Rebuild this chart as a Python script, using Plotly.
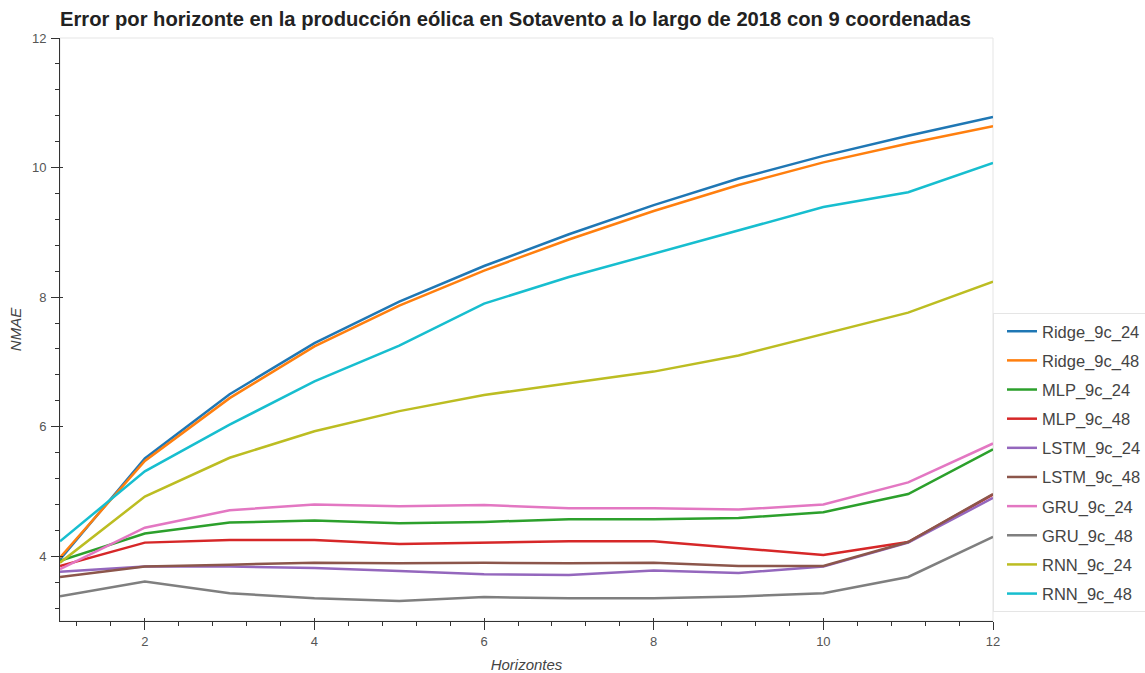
import plotly.graph_objects as go

# Forecast horizons (steps ahead)
horizontes = [1, 2, 3, 4, 5, 6, 7, 8, 9, 10, 11, 12]

# NMAE per model and horizon
ridge_9c_24 = [3.95, 5.51, 6.50, 7.29, 7.93, 8.48, 8.97, 9.42, 9.83, 10.18, 10.49, 10.78]
ridge_9c_48 = [3.98, 5.47, 6.44, 7.24, 7.87, 8.41, 8.89, 9.33, 9.73, 10.08, 10.37, 10.64]
mlp_9c_24 = [3.93, 4.35, 4.52, 4.55, 4.51, 4.53, 4.57, 4.57, 4.59, 4.68, 4.96, 5.65]
mlp_9c_48 = [3.85, 4.21, 4.25, 4.25, 4.19, 4.21, 4.23, 4.23, 4.12, 4.02, 4.22, 4.95]
lstm_9c_24 = [3.76, 3.84, 3.84, 3.82, 3.77, 3.72, 3.71, 3.78, 3.74, 3.84, 4.21, 4.90]
lstm_9c_48 = [3.68, 3.84, 3.87, 3.90, 3.89, 3.90, 3.89, 3.90, 3.85, 3.85, 4.22, 4.96]
gru_9c_24 = [3.80, 4.44, 4.71, 4.80, 4.77, 4.79, 4.74, 4.74, 4.72, 4.80, 5.14, 5.74]
gru_9c_48 = [3.38, 3.61, 3.43, 3.35, 3.31, 3.37, 3.35, 3.35, 3.38, 3.43, 3.68, 4.30]
rnn_9c_24 = [3.90, 4.92, 5.52, 5.93, 6.24, 6.49, 6.67, 6.85, 7.10, 7.43, 7.76, 8.24]
rnn_9c_48 = [4.23, 5.31, 6.03, 6.70, 7.25, 7.90, 8.31, 8.67, 9.04, 9.39, 9.62, 10.07]

series_names = ["Ridge_9c_24", "Ridge_9c_48", "MLP_9c_24", "MLP_9c_48", "LSTM_9c_24",
                "LSTM_9c_48", "GRU_9c_24", "GRU_9c_48", "RNN_9c_24", "RNN_9c_48"]
series_values = [ridge_9c_24, ridge_9c_48, mlp_9c_24, mlp_9c_48, lstm_9c_24,
                 lstm_9c_48, gru_9c_24, gru_9c_48, rnn_9c_24, rnn_9c_48]
palette = ["#1f77b4", "#ff7f0e", "#2ca02c", "#d62728", "#9467bd",
           "#8c564b", "#e377c2", "#7f7f7f", "#bcbd22", "#17becf"]

FONT = "Liberation Sans, Arial, Helvetica, sans-serif"
AXIS_COLOR = "#333333"

fig = go.Figure()
for i, (name, vals, color) in enumerate(zip(series_names, series_values, palette)):
    fig.add_trace(go.Scatter(
        x=horizontes, y=vals, name=name, mode="lines",
        line=dict(color=color, width=2.5),
        legendgroup=f"g{i}",
    ))

# Invisible helper trace on overlaid axes draws the short inner part of the major ticks
fig.add_trace(go.Scatter(x=[None], y=[None], xaxis="x2", yaxis="y2",
                         showlegend=False, hoverinfo="skip"))

axis_common = dict(
    showgrid=False, zeroline=False,
    showline=True, linecolor=AXIS_COLOR, linewidth=1,
    ticks="outside", ticklen=8, tickcolor=AXIS_COLOR, tickwidth=1,
    tickfont=dict(family=FONT, size=13, color="#555555"),
    minor=dict(dtick=0.4, ticks="outside", ticklen=4, tickcolor=AXIS_COLOR, tickwidth=1),
)
inner_common = dict(
    showgrid=False, zeroline=False, showline=False, showticklabels=False,
    ticks="inside", ticklen=3, tickcolor=AXIS_COLOR, tickwidth=1,
    tick0=0, dtick=2,
)

PLOT_TOP, PLOT_BOTTOM = 38, 621
LEGEND_TOP = 313

fig.update_layout(
    width=1145, height=673,
    margin=dict(l=60, r=152, t=PLOT_TOP, b=673 - PLOT_BOTTOM, autoexpand=False),
    paper_bgcolor="white", plot_bgcolor="white",
    font=dict(family=FONT, color="#444444"),
    title=dict(
        text="<b>Error por horizonte en la producción eólica en Sotavento a lo largo de 2018 con 9 coordenadas</b>",
        font=dict(family=FONT, size=20.2, color="#222222"),
        xref="container", yref="container",
        x=60 / 1145, xanchor="left",
        y=1 - 19 / 673, yanchor="middle",
    ),
    xaxis=dict(
        range=[1, 12], tick0=0, dtick=2, ticklabelstandoff=0,
        title=dict(text="<i>Horizontes</i>", font=dict(family=FONT, size=15, color="#444444"), standoff=17),
        **axis_common,
    ),
    yaxis=dict(
        range=[3, 12], tick0=0, dtick=2, ticklabelstandoff=2,
        title=dict(text="<i>NMAE</i>", font=dict(family=FONT, size=15, color="#444444"), standoff=6),
        **axis_common,
    ),
    xaxis2=dict(range=[1, 12], overlaying="x", anchor="y", side="bottom", **inner_common),
    yaxis2=dict(range=[3, 12], overlaying="y", anchor="x", side="left", **inner_common),
    legend=dict(
        x=1.0, xanchor="left",
        y=(PLOT_BOTTOM - LEGEND_TOP) / (PLOT_BOTTOM - PLOT_TOP), yanchor="top",
        bgcolor="white", bordercolor="#e5e5e5", borderwidth=1,
        font=dict(family=FONT, size=16.5, color="#444444"),
        tracegroupgap=4.7, traceorder="grouped", indentation=8,
    ),
    shapes=[dict(type="rect", xref="paper", yref="paper", x0=0, x1=1, y0=0, y1=1,
                 line=dict(color="#e5e5e5", width=1), layer="below")],
)

fig.write_html("out.html")
